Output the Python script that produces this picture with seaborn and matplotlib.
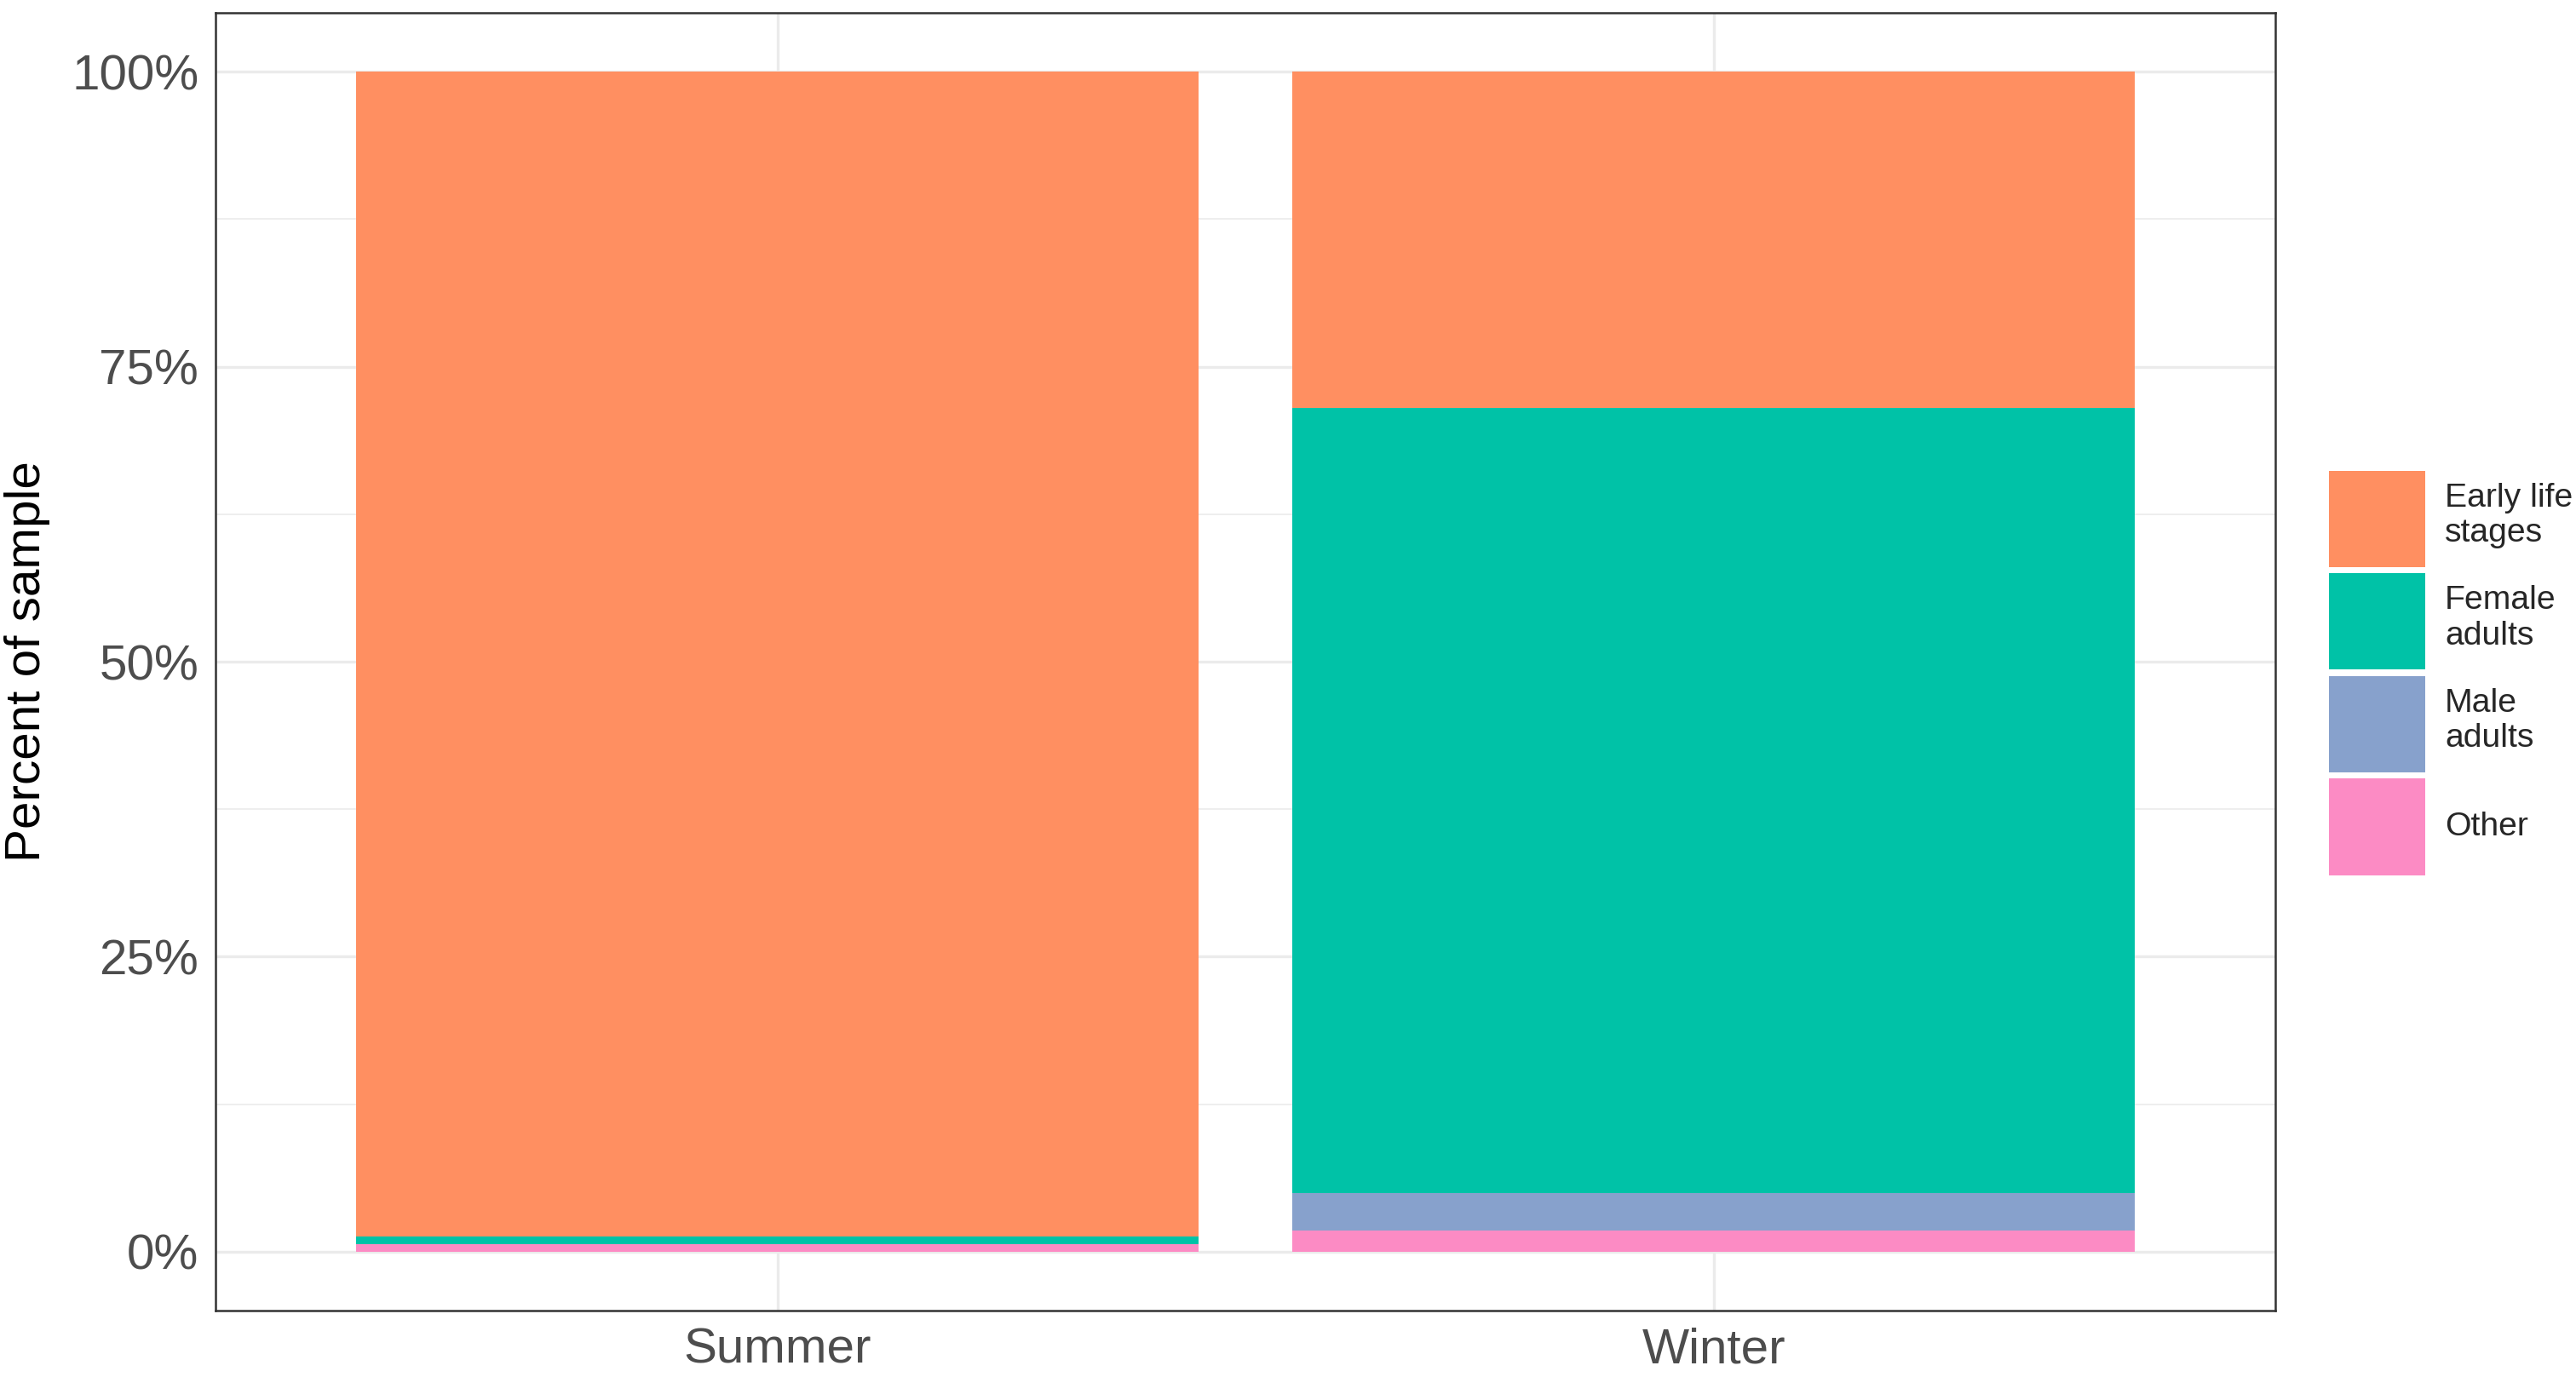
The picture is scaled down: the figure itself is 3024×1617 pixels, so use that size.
import matplotlib
matplotlib.use('Agg')
import matplotlib.pyplot as plt
import numpy as np
import pandas as pd
import seaborn as sns
from matplotlib.patches import Patch
from matplotlib.ticker import FixedLocator, PercentFormatter

seasons = ['Summer', 'Winter']
stages = ['Early life\nstages', 'Female\nadults', 'Male\nadults', 'Other']
# percent of sample per stage, one value per season
early_life = [98.7, 28.5]
female = [0.7, 66.5]
male = [0.0, 3.2]
other = [0.6, 1.8]
colors = ['#FF8F61', '#00C2A7', '#87A1CC', '#FC8BC4']


def make_df():
    rows = []
    for stage, vals in zip(stages, [early_life, female, male, other]):
        for s, v in zip(seasons, vals):
            rows.append({'season': s, 'stage': stage, 'pct': v})
    df = pd.DataFrame(rows)
    # stack from the bottom: Other, Male, Female, Early life
    order = stages[::-1]
    df['stage'] = pd.Categorical(df['stage'], categories=order, ordered=True)
    df = df.sort_values(['season', 'stage'])
    df['top'] = df.groupby('season')['pct'].cumsum()
    return df


def plot_stacked():
    sns.set_style('white')
    plt.rcParams['font.family'] = ['Liberation Sans', 'DejaVu Sans']
    df = make_df()

    fig = plt.figure(figsize=(10.08, 5.39), dpi=300)
    ax = fig.add_axes([0.0837, 0.0482, 0.7996, 0.9425])

    # draw tallest layer first so the lower ones sit on top of it
    for stage in stages:
        sub = df[df['stage'] == stage]
        sns.barplot(data=sub, x='season', y='top', order=seasons,
                    color=colors[stages.index(stage)], width=0.9,
                    linewidth=0, saturation=1, errorbar=None, ax=ax, zorder=3)

    ax.set_xlim(-0.6, 1.6)
    ax.set_ylim(-5, 105)
    ax.yaxis.set_major_locator(FixedLocator([0, 25, 50, 75, 100]))
    ax.yaxis.set_minor_locator(FixedLocator([12.5, 37.5, 62.5, 87.5]))
    ax.yaxis.set_major_formatter(PercentFormatter(decimals=0))
    ax.grid(True, which='major', color='#EBEBEB', linewidth=0.8, zorder=0)
    ax.grid(True, which='minor', axis='y', color='#EBEBEB', linewidth=0.4, zorder=0)
    ax.set_axisbelow(True)

    for sp in ax.spines.values():
        sp.set_color('#333333')
        sp.set_linewidth(0.6)
        sp.set_visible(True)

    ax.tick_params(axis='both', which='major', length=2.75, width=0.5,
                   color='#333333', labelsize=14, labelcolor='#4D4D4D', pad=2)
    ax.tick_params(axis='both', which='minor', length=0)
    ax.set_xlabel('')
    ax.set_ylabel('Percent of sample', fontsize=14, color='black', labelpad=6)

    # handleheight 4.08 gives ~2.9 font sizes of visible key height
    handles = [Patch(facecolor=c, edgecolor='none') for c in colors]
    fig.legend(handles, stages, loc='upper left',
               bbox_to_anchor=(0.899, 0.668), frameon=False,
               fontsize=9.4, handlelength=2.87, handleheight=4.08,
               labelspacing=0.18, handletextpad=0.6, borderaxespad=0)

    fig.savefig('out.png', dpi=300, facecolor='white')


if __name__ == '__main__':
    plot_stacked()
